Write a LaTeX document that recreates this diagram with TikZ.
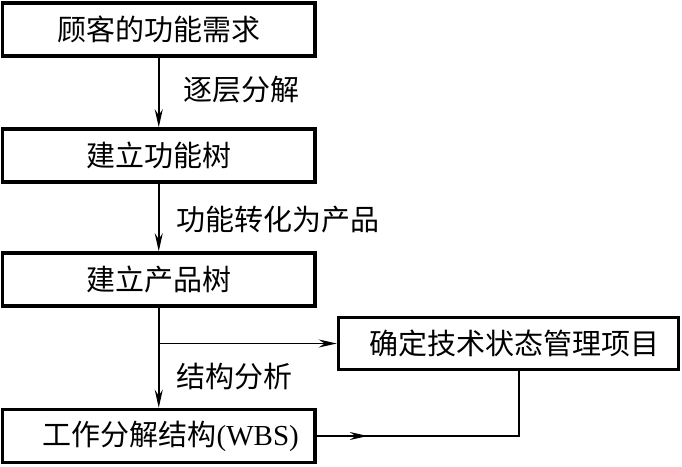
\documentclass[tikz,border=0pt]{standalone}
\usepackage{fontspec}
\setmainfont{Liberation Serif}
\newfontfamily\cjk{Noto Sans CJK SC}
\usetikzlibrary{arrows.meta,decorations.markings}
\begin{document}
\begin{tikzpicture}[x=1pt,y=-1pt,
  box/.style={draw, line width=3.5pt, minimum width=312.5pt, minimum height=53pt, inner sep=0pt, font=\fontsize{29}{29}\selectfont\cjk},
  conn/.style={line width=1.6pt},
  tip/.tip={Stealth[length=18pt,width=8pt,inset=6pt]},
  arr/.style={-tip},
  midarr/.style={decoration={markings, mark=at position 51pt with {\arrow{tip}}}, postaction={decorate}},
  lbl/.style={anchor=west, inner sep=0pt, font=\fontsize{29}{29}\selectfont\cjk}]
\useasboundingbox (0,0) rectangle (682,466);
\node[box] (b1) at (158.75,29.25) {顾客的功能需求};
\node[box] (b2) at (158.75,155.5) {建立功能树};
\node[box] (b3) at (158.75,279.5) {建立产品树};
\node[box] (b4) at (158.75,436) {\hspace{24pt}工作分解结构{\rmfamily (WBS)}};
\node[box, minimum width=340pt, minimum height=52pt] (rb) at (508.5,343.5) {\hspace{12pt}确定技术状态管理项目};
\coordinate (br) at (158.75,343.5);
\coordinate (c) at (519,436);
\draw[conn,arr] (b1) -- (b2);
\draw[conn,arr] (b2) -- (b3);
\draw[conn,arr] (b3) -- (b4);
\draw[conn,arr] (br) -- (rb.west);
\draw[conn,midarr] (b4.east) -- (c) -- (rb.south -| c);
\node[lbl] (l1) at (183,90) {逐层分解};
\node[lbl] (l2) at (176,220) {功能转化为产品};
\node[lbl] (l3) at (176,377) {结构分析};
\end{tikzpicture}
\end{document}
